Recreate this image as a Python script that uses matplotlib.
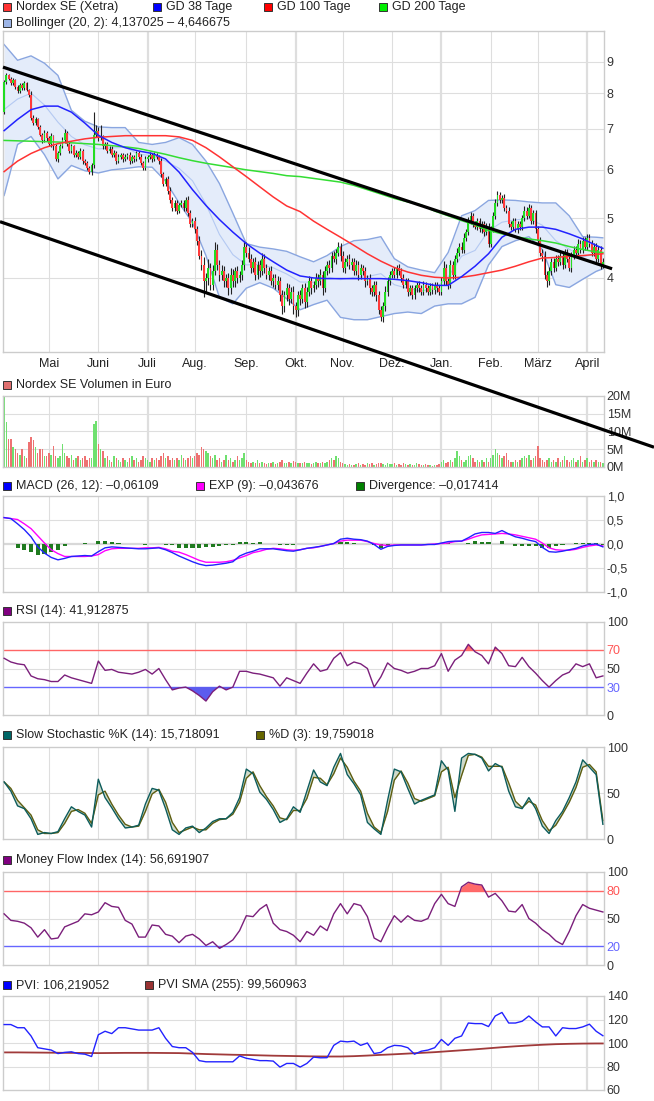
import numpy as np
import pandas as pd
import matplotlib
matplotlib.use("Agg")
import matplotlib.pyplot as plt
from matplotlib.patches import Rectangle

plt.rcParams['font.family'] = ['Liberation Sans', 'DejaVu Sans']

W, H = 654, 1101

# ---- data (Nordex SE, Xetra, daily) ----
dates = pd.bdate_range('2011-04-04', '2012-04-11')
month_names = ['Mai', 'Juni', 'Juli', 'Aug.', 'Sep.', 'Okt.', 'Nov.', 'Dez.',
               'Jan.', 'Feb.', 'März', 'April']

first_open = 7.45
close = [
    8.35, 8.55, 8.45, 8.30, 8.40, 8.20, 8.05, 8.25, 8.15, 8.30, 8.10, 7.95, 7.30, 7.15, 7.25, 7.05, 6.85, 6.70, 6.90, 6.75,
    6.60, 6.80, 6.55, 6.25, 6.40, 6.55, 6.70, 6.90, 6.60, 6.45, 6.55, 6.35, 6.40, 6.30, 6.45, 6.20, 6.15, 6.05, 5.95, 6.10, 6.85, 6.95,
    6.75, 6.80, 6.55, 6.60, 6.45, 6.50, 6.35, 6.40, 6.20, 6.30, 6.35, 6.25, 6.30, 6.35, 6.20, 6.30, 6.25, 6.40, 6.30, 6.15, 6.05, 6.25,
    6.30, 6.35, 6.25, 6.35, 6.30, 6.20, 5.90, 5.70, 5.80, 5.55, 5.35, 5.20, 5.30, 5.15, 5.25, 5.30, 5.20, 5.35, 5.10, 4.90, 4.95,
    4.80, 4.60, 4.35, 4.20, 3.95, 4.00, 4.15, 3.90, 4.10, 4.45, 4.20, 4.05, 4.10, 3.95, 4.00, 3.85, 4.05, 3.95, 4.10, 4.00, 4.05, 4.20, 4.50,
    4.40, 4.30, 4.15, 4.25, 4.05, 4.20, 4.10, 4.30, 4.15, 4.05, 4.10, 3.95, 4.00, 3.90, 3.95, 3.75, 3.60, 3.75, 3.85, 3.70, 3.80, 3.60,
    3.55, 3.75, 3.70, 3.85, 3.65, 3.80, 3.95, 3.85, 3.90, 4.00, 3.95, 4.05, 3.85, 4.10, 4.20, 4.15, 4.35, 4.30, 4.40, 4.50, 4.35,
    4.15, 4.25, 4.30, 4.20, 4.25, 4.10, 4.20, 4.05, 4.15, 4.10, 3.95, 4.00, 3.85, 3.80, 3.90, 3.75, 3.55, 3.45, 3.60, 3.80, 3.95, 4.05,
    4.10, 4.05, 4.15, 4.10, 4.00, 3.90, 3.95, 3.80, 3.85, 3.75, 3.85, 3.90, 3.85, 3.80, 3.90, 3.85, 3.80, 3.88, 3.82, 3.90, 3.85, 3.80,
    3.95, 4.15, 3.95, 3.90, 4.20, 4.05, 4.30, 4.40, 4.50, 4.45, 4.65, 4.75, 4.95, 5.05, 4.90, 4.85, 4.95, 4.80, 4.90, 4.75, 4.85, 4.55,
    4.80, 5.05, 5.30, 5.45, 5.35, 5.40, 5.20, 5.15, 4.90, 4.85, 4.95, 4.80, 4.90, 4.85, 5.00, 5.15, 5.05, 5.20, 4.95, 5.10, 4.80,
    4.60, 4.40, 4.35, 4.05, 3.95, 4.10, 4.25, 4.15, 4.30, 4.25, 4.35, 4.20, 4.40, 4.30, 4.15, 4.35, 4.45, 4.40, 4.55, 4.45, 4.60, 4.50,
    4.65, 4.55, 4.40, 4.50, 4.30, 4.45, 4.20, 4.25,
]
# wick lengths above / below the body, in cent
up_tail = [
    5, 8, 6, 5, 6, 4, 5, 6, 5, 6, 5, 4, 10, 8, 6, 5, 6, 5, 6, 4,
    6, 8, 5, 6, 5, 6, 8, 10, 5, 6, 5, 4, 6, 5, 6, 4, 5, 5, 4, 6, 60, 15,
    10, 30, 5, 6, 5, 6, 5, 6, 5, 6, 5, 4, 6, 5, 6, 4, 5, 5, 4, 6, 5, 6,
    5, 6, 5, 6, 5, 4, 8, 6, 5, 6, 8, 6, 5, 6, 5, 6, 5, 6, 8, 6, 5,
    8, 6, 8, 10, 12, 8, 15, 8, 10, 12, 10, 8, 10, 8, 6, 8, 10, 8, 6, 8, 6, 8, 10,
    8, 10, 8, 6, 8, 6, 8, 10, 8, 6, 6, 8, 6, 6, 8, 6, 8, 6, 8, 6, 6, 8,
    6, 6, 8, 6, 8, 6, 8, 6, 6, 8, 6, 8, 6, 8, 6, 8, 6, 8, 6, 8, 6,
    8, 6, 6, 8, 6, 6, 8, 6, 6, 5, 6, 5, 6, 5, 6, 5, 6, 5, 6, 8, 6, 6,
    5, 6, 5, 6, 5, 6, 5, 5, 4, 5, 4, 4, 5, 4, 5, 4, 4, 4, 5, 4, 4, 5,
    6, 12, 6, 5, 8, 6, 6, 8, 6, 8, 8, 6, 8, 8, 6, 6, 6, 6, 6, 6, 6, 6,
    6, 8, 8, 10, 8, 6, 8, 6, 6, 5, 6, 5, 6, 5, 6, 8, 6, 8, 6, 6, 6,
    6, 6, 6, 8, 6, 6, 6, 6, 6, 6, 6, 6, 6, 6, 6, 6, 6, 6, 8, 6, 6, 6,
    6, 6, 6, 6, 6, 6, 6, 6,
]
dn_tail = [
    5, 6, 5, 6, 5, 6, 5, 4, 5, 6, 5, 6, 8, 6, 5, 6, 5, 6, 5, 6,
    5, 6, 8, 5, 6, 5, 4, 6, 5, 6, 5, 6, 5, 6, 5, 6, 5, 6, 5, 6, 5, 6,
    6, 5, 6, 5, 6, 5, 6, 5, 6, 5, 4, 6, 5, 4, 6, 5, 6, 5, 6, 5, 6, 5,
    6, 5, 6, 5, 4, 6, 5, 6, 5, 6, 5, 6, 5, 6, 5, 4, 6, 5, 6, 5, 6,
    6, 8, 6, 8, 23, 15, 10, 8, 8, 6, 8, 10, 8, 8, 8, 10, 8, 8, 8, 8, 6, 8, 8,
    8, 6, 8, 6, 8, 6, 8, 6, 8, 6, 8, 6, 8, 6, 8, 8, 10, 8, 8, 8, 6, 10,
    10, 8, 8, 6, 8, 6, 6, 8, 6, 6, 8, 6, 10, 6, 6, 8, 6, 6, 8, 6, 8,
    6, 8, 6, 6, 8, 6, 6, 8, 6, 6, 8, 6, 8, 6, 6, 8, 6, 5, 6, 6, 6, 6,
    5, 5, 5, 5, 6, 5, 5, 6, 5, 5, 5, 5, 5, 5, 5, 5, 5, 5, 5, 5, 5, 5,
    5, 6, 5, 6, 5, 6, 6, 5, 6, 6, 5, 6, 5, 6, 6, 5, 6, 5, 6, 6, 5, 6,
    6, 5, 6, 6, 5, 6, 6, 5, 6, 6, 6, 5, 6, 6, 6, 5, 6, 5, 6, 5, 6,
    6, 6, 8, 6, 8, 6, 5, 6, 5, 6, 5, 6, 5, 6, 5, 6, 5, 6, 5, 6, 5, 6,
    6, 5, 6, 5, 6, 5, 6, 5,
]
# turnover in million euro
volume_m = [
    20.0, 12.7, 8.0, 8.0, 5.5, 5.0, 4.0, 3.5, 5.0, 3.0, 2.5, 7.0, 8.5, 7.5, 5.5, 4.0, 5.0, 5.0, 3.0, 3.0,
    4.0, 3.5, 6.0, 3.0, 2.5, 3.0, 6.5, 4.0, 3.0, 2.5, 3.5, 2.0, 2.5, 3.0, 2.0, 2.5, 3.0, 2.0, 2.5, 2.5, 12.0, 13.0,
    6.5, 5.0, 4.5, 2.5, 3.0, 2.0, 1.5, 3.0, 2.5, 2.0, 1.5, 2.5, 2.0, 1.5, 2.5, 3.0, 2.0, 2.5, 1.5, 2.0, 3.0, 2.5,
    2.0, 1.5, 2.5, 2.0, 2.5, 2.0, 3.0, 4.0, 2.5, 3.0, 2.0, 2.5, 2.0, 2.5, 2.0, 3.5, 2.5, 2.0, 2.5, 3.0, 2.5,
    3.0, 4.0, 3.5, 5.5, 5.0, 4.5, 4.0, 3.0, 2.5, 3.5, 2.0, 2.5, 1.5, 2.0, 3.5, 2.0, 2.5, 1.5, 2.0, 3.0, 2.0, 2.5, 4.0,
    2.0, 1.5, 1.0, 1.5, 1.0, 2.0, 1.0, 1.5, 1.0, 0.8, 1.2, 1.0, 1.5, 0.8, 1.0, 1.5, 2.0, 1.0, 1.2, 1.5, 1.0, 1.8,
    1.5, 1.0, 1.2, 1.0, 1.5, 1.0, 1.2, 0.8, 1.0, 1.5, 1.0, 1.2, 1.5, 1.0, 1.5, 2.0, 2.5, 2.0, 3.0, 2.5, 1.5,
    1.0, 0.8, 0.6, 0.8, 0.5, 0.6, 0.8, 1.0, 0.6, 0.8, 0.6, 1.0, 0.8, 1.2, 0.6, 0.8, 1.0, 1.2, 0.8, 0.6, 1.0, 0.8,
    0.8, 1.0, 0.6, 0.8, 0.6, 1.0, 0.8, 0.6, 0.8, 0.5, 0.6, 1.0, 0.8, 0.6, 0.5, 0.8, 0.6, 0.5, 0.4, 0.6, 0.5, 0.8,
    1.5, 2.0, 1.0, 1.5, 2.0, 1.5, 2.5, 4.5, 3.0, 2.0, 1.5, 2.0, 3.0, 3.5, 2.5, 1.5, 2.0, 1.5, 2.0, 1.5, 2.5, 1.5,
    2.5, 3.5, 5.0, 4.0, 3.5, 2.5, 3.0, 4.0, 2.0, 1.5, 1.5, 2.0, 1.5, 2.0, 2.5, 3.0, 2.5, 3.5, 2.0, 2.5, 3.0,
    6.0, 2.5, 2.0, 1.5, 2.0, 2.5, 1.5, 2.0, 1.5, 2.5, 1.5, 2.0, 3.0, 2.0, 1.5, 2.0, 2.5, 1.5, 2.0, 3.0, 1.5, 2.0,
    2.5, 1.5, 2.0, 1.5, 2.0, 1.5, 1.5, 1.0,
]

# smooth lines, read every 6th trading day (plus the last one)
ma_days = list(range(0, 268, 6)) + [267]
gd38 = [6.95, 7.25, 7.52, 7.62, 7.62, 7.45, 7.15, 6.83, 6.65, 6.52, 6.44, 6.38, 6.25, 5.95, 5.57, 5.25,
        4.98, 4.75, 4.55, 4.39, 4.25, 4.12, 4.03, 4.00, 3.99, 3.99, 3.99, 3.99, 3.99, 3.98, 3.96, 3.93,
        3.89, 3.89, 4.02, 4.18, 4.38, 4.66, 4.80, 4.84, 4.84, 4.80, 4.72, 4.63, 4.52, 4.47]
gd100 = [5.96, 6.20, 6.38, 6.52, 6.62, 6.68, 6.74, 6.78, 6.80, 6.82, 6.82, 6.82, 6.82, 6.79, 6.70, 6.52,
         6.30, 6.07, 5.85, 5.63, 5.42, 5.24, 5.13, 4.95, 4.80, 4.66, 4.52, 4.38, 4.26, 4.16, 4.09, 4.04,
         4.01, 4.00, 4.01, 4.04, 4.08, 4.12, 4.18, 4.25, 4.31, 4.32, 4.34, 4.35, 4.37, 4.38]
gd200 = [6.70, 6.69, 6.68, 6.67, 6.66, 6.64, 6.62, 6.60, 6.57, 6.54, 6.50, 6.43, 6.36, 6.28, 6.21, 6.15,
         6.10, 6.05, 6.00, 5.96, 5.92, 5.87, 5.85, 5.81, 5.77, 5.73, 5.66, 5.57, 5.48, 5.39, 5.32, 5.26,
         5.14, 5.05, 4.96, 4.88, 4.78, 4.72, 4.67, 4.63, 4.60, 4.56, 4.50, 4.45, 4.41, 4.40]
bb_upper = [9.60, 9.05, 9.20, 8.95, 8.55, 7.50, 7.20, 7.05, 7.03, 7.03, 6.65, 6.60, 6.65, 6.77, 6.60, 6.20,
            5.70, 5.10, 4.55, 4.49, 4.46, 4.42, 4.33, 4.25, 4.35, 4.50, 4.60, 4.62, 4.67, 4.30, 4.17, 4.12,
            4.08, 4.40, 5.05, 5.15, 5.35, 5.36, 5.35, 5.32, 5.30, 5.30, 5.05, 4.67, 4.66, 4.65]
bb_lower = [5.45, 6.60, 6.80, 6.35, 5.80, 6.10, 5.98, 5.93, 6.00, 6.03, 6.07, 6.06, 5.75, 5.30, 4.92, 4.35,
            3.72, 3.63, 3.85, 3.93, 3.85, 3.70, 3.55, 3.62, 3.68, 3.45, 3.42, 3.42, 3.46, 3.50, 3.52, 3.50,
            3.60, 3.63, 3.63, 3.72, 4.20, 4.50, 4.60, 4.67, 4.45, 3.90, 3.86, 3.98, 4.10, 4.14]
pvi_sma = [92.0, 92.0, 91.9, 91.8, 91.7, 91.6, 91.5, 91.4, 91.5, 91.6, 91.6, 91.6, 91.5, 91.4, 91.0, 90.6,
           90.3, 90.0, 89.8, 89.5, 89.2, 89.0, 88.8, 88.6, 88.5, 88.5, 88.8, 89.3, 89.9, 90.4, 91.0, 91.6,
           92.2, 93.0, 93.8, 94.6, 95.5, 96.4, 97.2, 97.9, 98.5, 99.0, 99.3, 99.5, 99.6, 99.6]

# oscillators, read every 3rd trading day
osc_days = list(range(0, 268, 3))
macd = [0.55, 0.53, 0.42, 0.30, 0.15, -0.06, -0.19, -0.28, -0.33, -0.30,
        -0.26, -0.25, -0.24, -0.25, -0.16, -0.08, -0.06, -0.07, -0.08, -0.09,
        -0.10, -0.10, -0.09, -0.08, -0.12, -0.18, -0.25, -0.31, -0.37, -0.42,
        -0.45, -0.44, -0.42, -0.40, -0.37, -0.25, -0.19, -0.15, -0.10, -0.10,
        -0.10, -0.12, -0.14, -0.15, -0.12, -0.09, -0.07, -0.05, -0.02, 0.01,
        0.10, 0.12, 0.10, 0.09, 0.06, -0.01, -0.11, -0.05, -0.03, -0.02,
        -0.02, -0.02, -0.02, -0.01, -0.01, 0.02, 0.05, 0.06, 0.06, 0.13,
        0.21, 0.24, 0.24, 0.22, 0.28, 0.21, 0.15, 0.12, 0.08, 0.05,
        -0.07, -0.16, -0.17, -0.15, -0.12, -0.09, -0.04, -0.01, 0.00, -0.06]
macd_exp = [0.55, 0.53, 0.51, 0.42, 0.32, 0.17, 0.02, -0.12, -0.20, -0.26,
            -0.26, -0.26, -0.26, -0.25, -0.22, -0.14, -0.10, -0.09, -0.09, -0.09,
            -0.09, -0.08, -0.08, -0.07, -0.10, -0.15, -0.17, -0.22, -0.28, -0.34,
            -0.38, -0.38, -0.38, -0.37, -0.34, -0.29, -0.24, -0.18, -0.15, -0.11,
            -0.09, -0.10, -0.12, -0.13, -0.12, -0.09, -0.08, -0.05, -0.02, 0.01,
            0.06, 0.08, 0.08, 0.08, 0.05, 0.01, -0.02, -0.03, -0.02, -0.02,
            -0.02, -0.02, -0.02, -0.01, 0.00, 0.01, 0.02, 0.05, 0.06, 0.10,
            0.15, 0.19, 0.20, 0.21, 0.22, 0.21, 0.19, 0.16, 0.13, 0.10,
            0.02, -0.08, -0.12, -0.13, -0.13, -0.11, -0.07, -0.04, -0.02, -0.04]
rsi = [61, 57, 55, 54, 42, 39, 38, 36, 36, 43,
       40, 38, 36, 34, 58, 48, 49, 46, 45, 44,
       46, 49, 44, 50, 38, 27, 29, 30, 26, 21,
       15, 25, 31, 27, 30, 47, 47, 45, 44, 42,
       40, 31, 40, 37, 34, 45, 55, 47, 49, 61,
       67, 53, 57, 55, 50, 30, 41, 56, 50, 48,
       45, 47, 50, 50, 53, 66, 47, 59, 64, 76,
       68, 64, 55, 73, 66, 53, 52, 62, 52, 45,
       37, 30, 37, 43, 46, 55, 52, 55, 40, 42]
stoch_k = [62, 52, 36, 33, 22, 5, 7, 6, 8, 22,
           35, 30, 26, 13, 65, 45, 34, 22, 12, 13,
           15, 38, 55, 53, 33, 10, 5, 12, 14, 7,
           12, 19, 22, 22, 29, 45, 76, 71, 51, 43,
           32, 18, 22, 35, 29, 52, 75, 62, 58, 78,
           93, 70, 60, 48, 18, 11, 5, 42, 76, 73,
           55, 38, 42, 45, 48, 85, 75, 30, 88, 93,
           92, 88, 74, 82, 78, 52, 35, 33, 45, 33,
           14, 6, 20, 30, 45, 62, 86, 78, 70, 16]
stoch_d = [62, 55, 42, 34, 26, 10, 6, 6, 7, 17,
           30, 32, 28, 17, 48, 52, 38, 26, 16, 13,
           14, 30, 49, 54, 40, 18, 7, 10, 13, 10,
           10, 17, 21, 22, 27, 40, 66, 73, 58, 46,
           36, 23, 21, 31, 31, 44, 67, 66, 59, 71,
           88, 78, 63, 52, 28, 13, 7, 30, 64, 74,
           61, 44, 41, 44, 47, 73, 78, 45, 69, 91,
           92, 89, 79, 79, 79, 61, 41, 34, 41, 37,
           20, 9, 15, 27, 40, 56, 78, 81, 73, 20]
mfi = [55, 48, 47, 45, 40, 30, 38, 28, 29, 41,
       44, 47, 55, 54, 57, 67, 63, 62, 48, 44,
       30, 30, 43, 42, 33, 31, 24, 31, 33, 28,
       21, 25, 18, 22, 27, 37, 53, 52, 60, 65,
       45, 38, 36, 32, 25, 36, 32, 42, 37, 55,
       66, 55, 66, 64, 52, 29, 25, 40, 53, 46,
       53, 48, 47, 50, 66, 76, 66, 63, 84, 89,
       87, 86, 73, 77, 69, 58, 57, 65, 50, 45,
       38, 33, 26, 22, 36, 53, 65, 61, 59, 57]
pvi = [115.7, 115.7, 113, 113, 106, 96, 95, 94, 91, 92,
       92.5, 91, 90.5, 88.5, 107, 110, 108, 113, 113, 112,
       111, 111, 111, 113, 104, 97, 96, 96, 92, 85,
       84, 84, 84, 84, 84, 89, 87, 86, 85, 85,
       84.6, 79.5, 82.6, 82.6, 79.5, 82.6, 88, 87.4, 87.5, 98,
       101.6, 101, 101.6, 98, 100, 91, 92, 96, 98, 97.6,
       96, 90.5, 93, 94, 96, 103, 98, 104, 106, 117,
       116.5, 116.5, 114, 123, 126, 117, 117, 118.5, 123, 118,
       113.7, 113.7, 106, 113, 112.3, 112.3, 113.7, 116, 110, 106.2]

# hand-drawn trend channel (trading day, price)
channel_upper = ([-0.5, 271.1], [8.82, 4.14])
channel_lower = ([-1.84, 289.8], [4.94, 2.12])

# ---- derived ----
n = len(dates)
days = np.arange(n)
c = np.array(close)
o = np.r_[first_open, c[:-1]]
hi = np.maximum(o, c) + np.array(up_tail) / 100
lo = np.minimum(o, c) - np.array(dn_tail) / 100
up = c >= o
month_start = [i for i in range(1, n) if dates[i].month != dates[i - 1].month]

GRID = '#dedede'
TXT = '#222222'
FS = 9

fig = plt.figure(figsize=(W / 100, H / 100), dpi=100)


def panel(top, bottom):
    return fig.add_axes([3 / W, 1 - bottom / H, 601 / W, (bottom - top) / H])


def frame(ax, ylim, yticks, ylabels, hgrid=()):
    ax.set_xlim(-0.5, n - 0.5)
    ax.set_ylim(*ylim)
    for s in ax.spines.values():
        s.set_color('#cccccc')
        s.set_linewidth(1.0)
    for p in month_start:
        q = dates[p].month in (1, 4, 7, 10)
        ax.axvline(p, color=GRID, lw=1.6 if q else 0.8, zorder=0)
    for h in hgrid:
        ax.axhline(h, color=GRID, lw=0.8, zorder=0)
    ax.set_xticks([])
    ax.yaxis.tick_right()
    ax.set_yticks(yticks)
    ax.set_yticklabels(ylabels)
    ax.minorticks_off()
    ax.tick_params(axis='y', which='both', length=0, pad=2, labelsize=FS, labelcolor='#333333')


def key(x, y, color, label):
    fig.patches.append(Rectangle((x / W, 1 - (y + 4) / H), 8 / W, 8 / H, transform=fig.transFigure,
                                 facecolor=color, edgecolor='#333333', lw=0.7))
    fig.text((x + 13) / W, 1 - y / H, label, fontsize=FS, va='center', ha='left', color=TXT)


# ---- price panel ----
ax = panel(31, 352)
ax.set_yscale('log')
frame(ax, (3.03, 10.1), [4, 5, 6, 7, 8, 9], ['4', '5', '6', '7', '8', '9'], hgrid=[4, 5, 6, 7, 8, 9])
ax.set_zorder(5)
ax.fill_between(ma_days, bb_lower, bb_upper, color='#e4ecfa', lw=0, zorder=1)
ax.plot(ma_days, bb_upper, color='#8aa6e0', lw=1.0, zorder=2)
ax.plot(ma_days, bb_lower, color='#8aa6e0', lw=1.0, zorder=2)
ax.plot(ma_days, (np.array(bb_upper) + np.array(bb_lower)) / 2, color='#b4c9f2', lw=0.8, zorder=2)
ax.vlines(days, lo, hi, color='#222222', lw=0.8, zorder=3)
ax.bar(days, np.abs(c - o), bottom=np.minimum(o, c), width=0.8,
       color=np.where(up, '#22dd22', '#ff3b3b'), lw=0, zorder=4)
ax.plot(ma_days, gd200, color='#33dd33', lw=1.1, zorder=5)
ax.plot(ma_days, gd100, color='#ff3333', lw=1.1, zorder=5)
ax.plot(ma_days, gd38, color='#2222ff', lw=1.1, zorder=5)
for cx, cy in (channel_upper, channel_lower):
    ax.plot(cx, cy, color='black', lw=2.3, zorder=8, clip_on=False, solid_capstyle='butt')
ax.set_xticks(month_start)
ax.set_xticklabels(month_names)
ax.tick_params(axis='x', length=0, pad=4, labelsize=FS, labelcolor=TXT)
fig.text(9 / W, 1 - 343 / H, '1 Tick = 1 Tag', fontsize=FS, color='#9a9a9a', va='center')

key(3, 7, '#ff3333', 'Nordex SE (Xetra)')
key(153, 7, '#0000ff', 'GD 38 Tage')
key(264, 7, '#ff0000', 'GD 100 Tage')
key(379, 7, '#00ee00', 'GD 200 Tage')
key(3, 23, '#9db5e6', 'Bollinger (20, 2): 4,137025 – 4,646675')

# ---- volume ----
ax = panel(396, 467)
frame(ax, (0, 20), [0, 5, 10, 15, 20], ['0M', '5M', '10M', '15M', '20M'], hgrid=[5, 10, 15])
ax.bar(days, volume_m, width=0.65, color=np.where(up, '#6fe06f', '#ee7272'), lw=0, zorder=2)
key(3, 385, '#e07070', 'Nordex SE Volumen in Euro')

# ---- MACD ----
ax = panel(496, 592)
frame(ax, (-1, 1), [-1, -0.5, 0, 0.5, 1], ['-1,0', '-0,5', '0,0', '0,5', '1,0'], hgrid=[-0.5, 0.5])
ax.axhline(0, color='#d8d8d8', lw=1.6, zorder=0)
div = np.array(macd) - np.array(macd_exp)
ax.bar(osc_days, div, width=1.8, color='#1f7a1f', lw=0, zorder=2)
ax.plot(osc_days, macd_exp, color='#ff00ff', lw=1.0, zorder=3)
ax.plot(osc_days, macd, color='#2222ff', lw=1.0, zorder=4)
key(3, 486, '#0000ff', 'MACD (26, 12): –0,06109')
key(196, 486, '#ff00ff', 'EXP (9): –0,043676')
key(356, 486, '#008000', 'Divergence: –0,017414')

# ---- RSI ----
ax = panel(622, 715)
frame(ax, (0, 100), [0, 30, 50, 70, 100], ['0', '30', '50', '70', '100'], hgrid=[50])
r = np.array(rsi, dtype=float)
ax.axhline(70, color='#ff6666', lw=1.0, zorder=1)
ax.axhline(30, color='#6666ff', lw=1.0, zorder=1)
ax.fill_between(osc_days, r, 30, where=r < 30, interpolate=True, color='#5c5cee', lw=0, zorder=2)
ax.fill_between(osc_days, r, 70, where=r > 70, interpolate=True, color='#ff6a6a', lw=0, zorder=2)
ax.plot(osc_days, r, color='#7b1f7b', lw=1.0, zorder=3)
lab = ax.get_yticklabels()
lab[1].set_color('#6666ff')
lab[3].set_color('#ff5555')
key(3, 611, '#800080', 'RSI (14): 41,912875')

# ---- Slow Stochastic ----
ax = panel(747, 839)
frame(ax, (0, 100), [0, 50, 100], ['0', '50', '100'], hgrid=[50])
ax.fill_between(osc_days, stoch_k, stoch_d, color='#cfd9ca', lw=0, zorder=1)
ax.plot(osc_days, stoch_d, color='#5e5e10', lw=1.0, zorder=2)
ax.plot(osc_days, stoch_k, color='#0c5c5c', lw=1.0, zorder=3)
key(3, 735, '#006666', 'Slow Stochastic %K (14): 15,718091')
key(256, 735, '#666600', '%D (3): 19,759018')

# ---- Money Flow Index ----
ax = panel(872, 965)
frame(ax, (0, 100), [0, 20, 50, 80, 100], ['0', '20', '50', '80', '100'], hgrid=[50])
m = np.array(mfi, dtype=float)
ax.axhline(80, color='#ff6666', lw=1.0, zorder=1)
ax.axhline(20, color='#6666ff', lw=1.0, zorder=1)
ax.fill_between(osc_days, m, 20, where=m < 20, interpolate=True, color='#5c5cee', lw=0, zorder=2)
ax.fill_between(osc_days, m, 80, where=m > 80, interpolate=True, color='#ff6a6a', lw=0, zorder=2)
ax.plot(osc_days, m, color='#7b1f7b', lw=1.0, zorder=3)
lab = ax.get_yticklabels()
lab[1].set_color('#6666ff')
lab[3].set_color('#ff5555')
key(3, 860, '#800080', 'Money Flow Index (14): 56,691907')

# ---- PVI ----
ax = panel(996, 1090)
frame(ax, (60, 140), [60, 80, 100, 120, 140], ['60', '80', '100', '120', '140'], hgrid=[80, 100, 120])
ax.plot(ma_days, pvi_sma, color='#a03a3a', lw=1.3, zorder=2)
ax.plot(osc_days, pvi, color='#2222ff', lw=1.0, zorder=3)
key(3, 985, '#0000ff', 'PVI: 106,219052')
key(145, 985, '#993333', 'PVI SMA (255): 99,560963')

fig.savefig('out.png', dpi=100)
